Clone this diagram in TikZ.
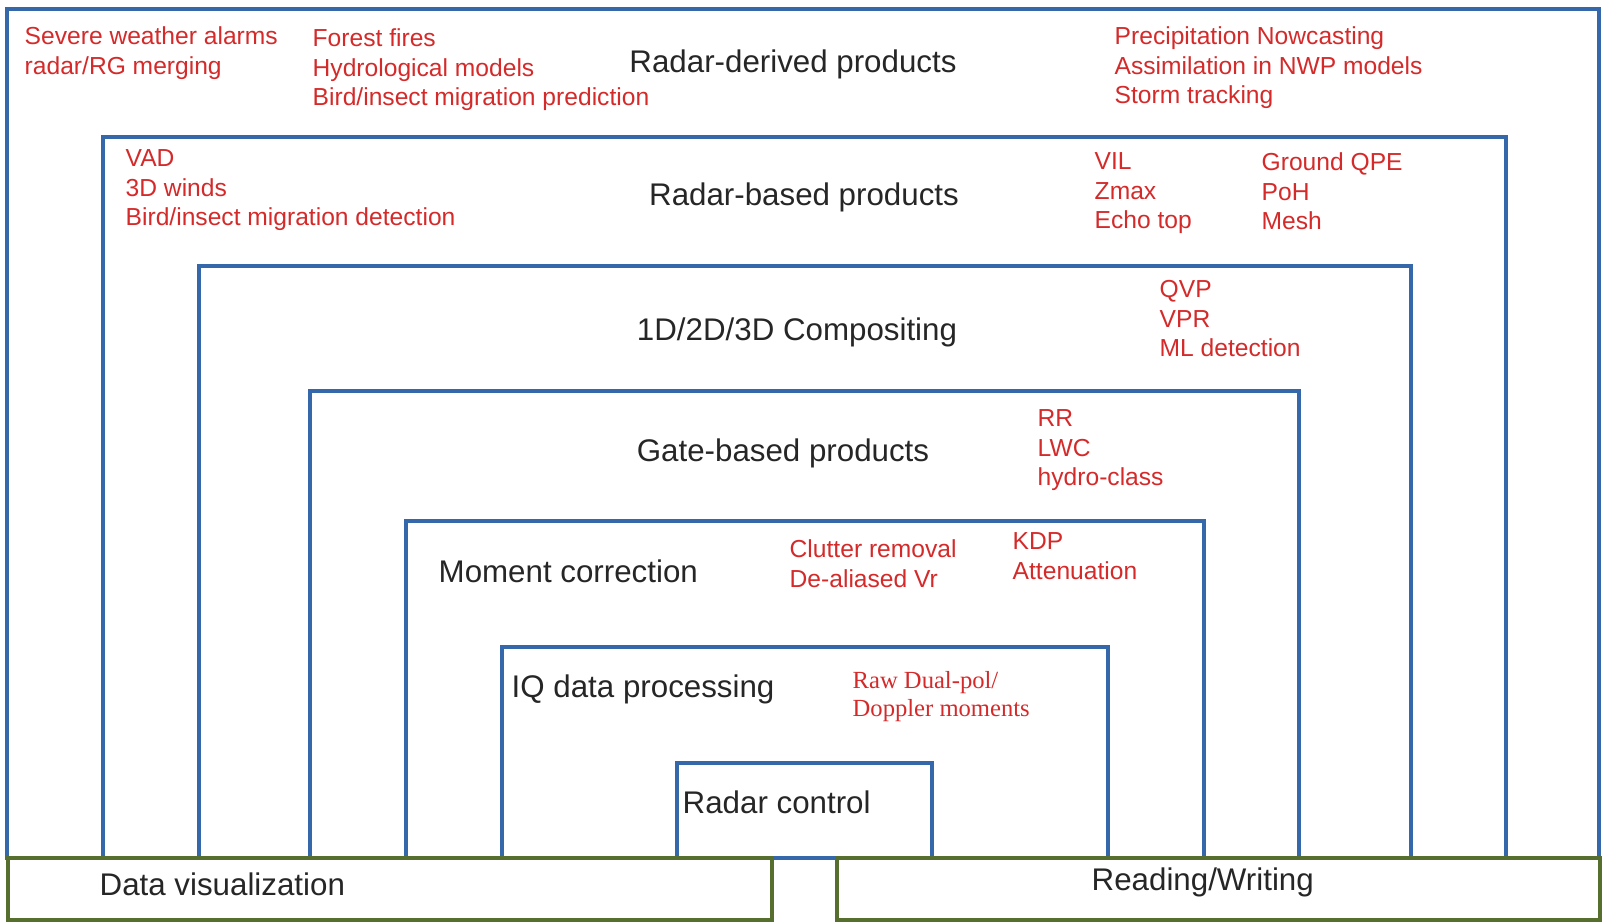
\documentclass[tikz,border=0pt]{standalone}
\usepackage{fontspec}
\setmainfont{Liberation Sans}
\newfontfamily\serifface{Liberation Serif}
\usepackage{tikz}

\definecolor{layerblue}{RGB}{52,104,170}
\definecolor{iogreen}{RGB}{86,111,46}
\definecolor{prodred}{RGB}{212,42,42}
\definecolor{labelgray}{RGB}{38,38,38}

\begin{document}
\begin{tikzpicture}[x=0.01cm, y=-0.01cm,
    layer/.style={draw=layerblue, line width=1.35pt},
    iobox/.style={draw=iogreen, fill=white, line width=1.35pt},
    title/.style={text=labelgray, font=\fontsize{8.9}{10.5}\selectfont, inner sep=0pt},
    items/.style={text=prodred, font=\fontsize{7}{8.4}\selectfont, align=left, anchor=north west, inner sep=0pt}]
    \useasboundingbox (0,0) rectangle (1602,923);

    % nested processing layers, all closed on the same base line
    \draw[layer] (7,9) rectangle (1599,858);
    \draw[layer] (103,137) rectangle (1506,858);
    \draw[layer] (199,266) rectangle (1411,858);
    \draw[layer] (310,391) rectangle (1299,858);
    \draw[layer] (406,521) rectangle (1204,858);
    \draw[layer] (502,647) rectangle (1108,858);
    \draw[layer] (677,763) rectangle (932,858);

    % input/output bars at the bottom
    \draw[iobox] (8,858) rectangle (772,920);
    \draw[iobox] (837,858) rectangle (1600,920);

    % layer titles
    \node[title] (derived) at (793,64) {Radar-derived products};
    \node[title] (based) at (804,197) {Radar-based products};
    \node[title] (compos) at (797,332) {1D/2D/3D Compositing};
    \node[title] (gate) at (783,453) {Gate-based products};
    \node[title, anchor=west] (moment) at (438,571) {Moment correction};
    \node[title, anchor=west] (iq) at (511,689) {IQ data processing};
    \node[title, anchor=west] (control) at (682,802) {Radar control};
    \node[title, anchor=west] (visu) at (99,884) {Data visualization};
    \node[title, anchor=west] (rw) at (1091,882) {Reading/Writing};

    % products of each layer
    \node[items] (alarms) at (24,26) {Severe weather alarms\\radar/RG merging};
    \node[items] (hydro) at (312,28) {Forest fires\\Hydrological models\\Bird/insect migration prediction};
    \node[items] (nwp) at (1114,26) {Precipitation Nowcasting\\Assimilation in NWP models\\Storm tracking};
    \node[items] (winds) at (125,149) {VAD\\3D winds\\Bird/insect migration detection};
    \node[items] (vil) at (1094,152) {VIL\\Zmax\\Echo top};
    \node[items] (qpe) at (1261,152) {Ground QPE\\PoH\\Mesh};
    \node[items] (qvp) at (1159,280) {QVP\\VPR\\ML detection};
    \node[items] (rr) at (1037,409) {RR\\LWC\\hydro-class};
    \node[items] (clutter) at (789,539) {Clutter removal\\De-aliased Vr};
    \node[items] (kdp) at (1012,532) {KDP\\Attenuation};
    \node[items, font=\serifface\fontsize{7}{7.8}\selectfont] (raw) at (852,671) {Raw Dual-pol/\\Doppler moments};
\end{tikzpicture}
\end{document}
